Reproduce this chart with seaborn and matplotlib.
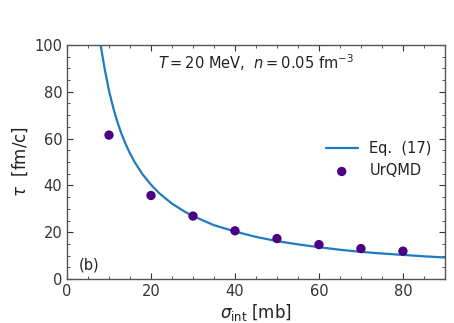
import numpy as np
import pandas as pd
import matplotlib
matplotlib.use("Agg")
import matplotlib.pyplot as plt
import seaborn as sns
from matplotlib.ticker import MultipleLocator

# Curve (Eq. 17)
curve_sigma = [7.5, 8, 9, 10, 11, 12, 13, 14, 15, 16, 18, 20, 22, 25, 28, 30,
               35, 40, 45, 50, 55, 60, 65, 70, 75, 80, 85, 90]
curve_tau = [107.5, 100.0, 89.5, 80.5, 73.2, 67.1, 61.9, 57.5, 53.7, 50.3, 44.7,
             40.3, 36.6, 32.2, 28.8, 26.9, 23.0, 20.3, 18.0, 16.2, 14.8, 13.6,
             12.5, 11.6, 10.9, 10.3, 9.7, 9.2]

# UrQMD points
urqmd_sigma = [10, 20, 30, 40, 50, 60, 70, 80]
urqmd_tau = [61.5, 35.7, 26.9, 20.6, 17.3, 14.7, 13.0, 11.9]

sns.set_style("ticks")
plt.rcParams["font.family"] = ["DejaVu Sans"]
plt.rcParams["mathtext.fontset"] = "dejavusans"

fig = plt.figure(figsize=(4.54, 3.23), dpi=100)
ax = fig.add_axes([0.1476, 0.1362, 0.8324, 0.7245])

df_curve = pd.DataFrame({"sigma": curve_sigma, "tau": curve_tau})
df_pts = pd.DataFrame({"sigma": urqmd_sigma, "tau": urqmd_tau})

sns.lineplot(data=df_curve, x="sigma", y="tau", ax=ax, color="#1f7bc1",
             linewidth=1.6, label="Eq.  (17)")
sns.scatterplot(data=df_pts, x="sigma", y="tau", ax=ax, color="#4b0082",
                s=45, edgecolor="none", label="UrQMD", zorder=3)

ax.set_xlim(0, 90)
ax.set_ylim(0, 100)
ax.xaxis.set_major_locator(MultipleLocator(20))
ax.xaxis.set_minor_locator(MultipleLocator(5))
ax.yaxis.set_major_locator(MultipleLocator(20))
ax.yaxis.set_minor_locator(MultipleLocator(5))
ax.tick_params(which="both", direction="in", top=True, right=True,
               labelsize=10.5, colors="#333333")
ax.tick_params(which="major", length=4, width=0.8)
ax.tick_params(which="minor", length=2, width=0.6)
for s in ax.spines.values():
    s.set_color("#555555")
    s.set_linewidth(1.0)

ax.set_xlabel(r"$\sigma_{\rm int}$ [mb]", fontsize=12, labelpad=2,
              color="#222222")
ax.set_ylabel(r"$\tau$  [fm/c]", fontsize=12, labelpad=3, color="#222222")

ax.text(0.5, 0.925, r"$T = 20$ MeV,  $n = 0.05$ fm$^{-3}$",
        transform=ax.transAxes, ha="center", va="center", fontsize=10.5,
        color="#222222")
ax.text(0.03, 0.06, "(b)", transform=ax.transAxes, ha="left", va="center",
        fontsize=10.5, color="#222222")

leg = ax.legend(loc="center right", bbox_to_anchor=(1.0, 0.51), frameon=False,
                fontsize=10.5, handlelength=2.2, handletextpad=0.8,
                labelspacing=0.5)
for t in leg.get_texts():
    t.set_color("#222222")

fig.savefig("out.png", dpi=100)
